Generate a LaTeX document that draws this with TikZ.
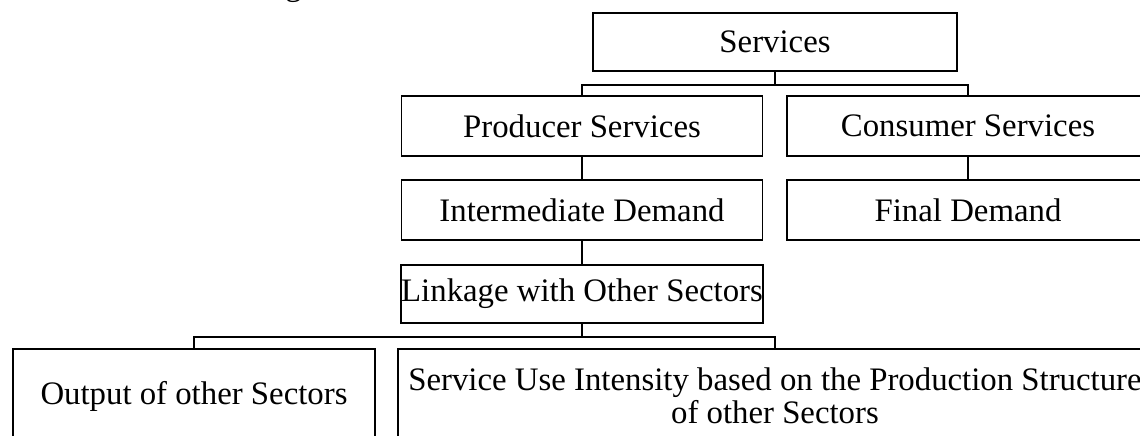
\documentclass[tikz,border=0pt]{standalone}
\usepackage{fontspec}
\setmainfont{Liberation Serif}
\begin{document}
\begin{tikzpicture}[x=1pt,y=-1pt,
  box/.style={draw,line width=1.8pt,rectangle,inner sep=0pt,align=center,
    font=\fontsize{32.8}{33}\selectfont},
  link/.style={draw,line width=2.2pt}]
\useasboundingbox (0,0) rectangle (1140,436);
% caption fragment above the chart
\node[inner sep=0pt,anchor=base,font=\fontsize{32.8}{33}\selectfont] (cap) at (293.5,-4) {g};
% hierarchy boxes
\node[box,minimum width=364pt,minimum height=58pt] (services) at (775,42) {Services};
\node[box,minimum width=361pt,minimum height=60pt] (producer) at (582,126) {Producer Services};
\node[box,minimum width=362pt,minimum height=60pt] (consumer) at (968,126) {Consumer Services};
\node[box,minimum width=361pt,minimum height=60pt] (intermediate) at (582,210) {Intermediate Demand};
\node[box,minimum width=362pt,minimum height=60pt] (final) at (968,210) {Final Demand};
\node[box,minimum width=361pt,minimum height=58pt] (linkage) at (582,294) {Linkage with Other Sectors};
\node[box,minimum width=362pt,minimum height=94pt] (output) at (194,396) {Output of other Sectors};
\node[box,minimum width=754pt,minimum height=94pt] (intensity) at (775,396)
  {Service Use Intensity based on the Production Structure\\of other Sectors};
% branch points
\coordinate (b1) at (775,85);
\coordinate (b2) at (582,337);
% connectors
\path[link] (services.south) -- (b1);
\path[link] (producer.north) |- (b1) -| (consumer.north);
\path[link] (producer.south) -- (intermediate.north);
\path[link] (consumer.south) -- (final.north);
\path[link] (intermediate.south) -- (linkage.north);
\path[link] (linkage.south) -- (b2);
\path[link] (output.north) |- (b2) -| (intensity.north);
\end{tikzpicture}
\end{document}
